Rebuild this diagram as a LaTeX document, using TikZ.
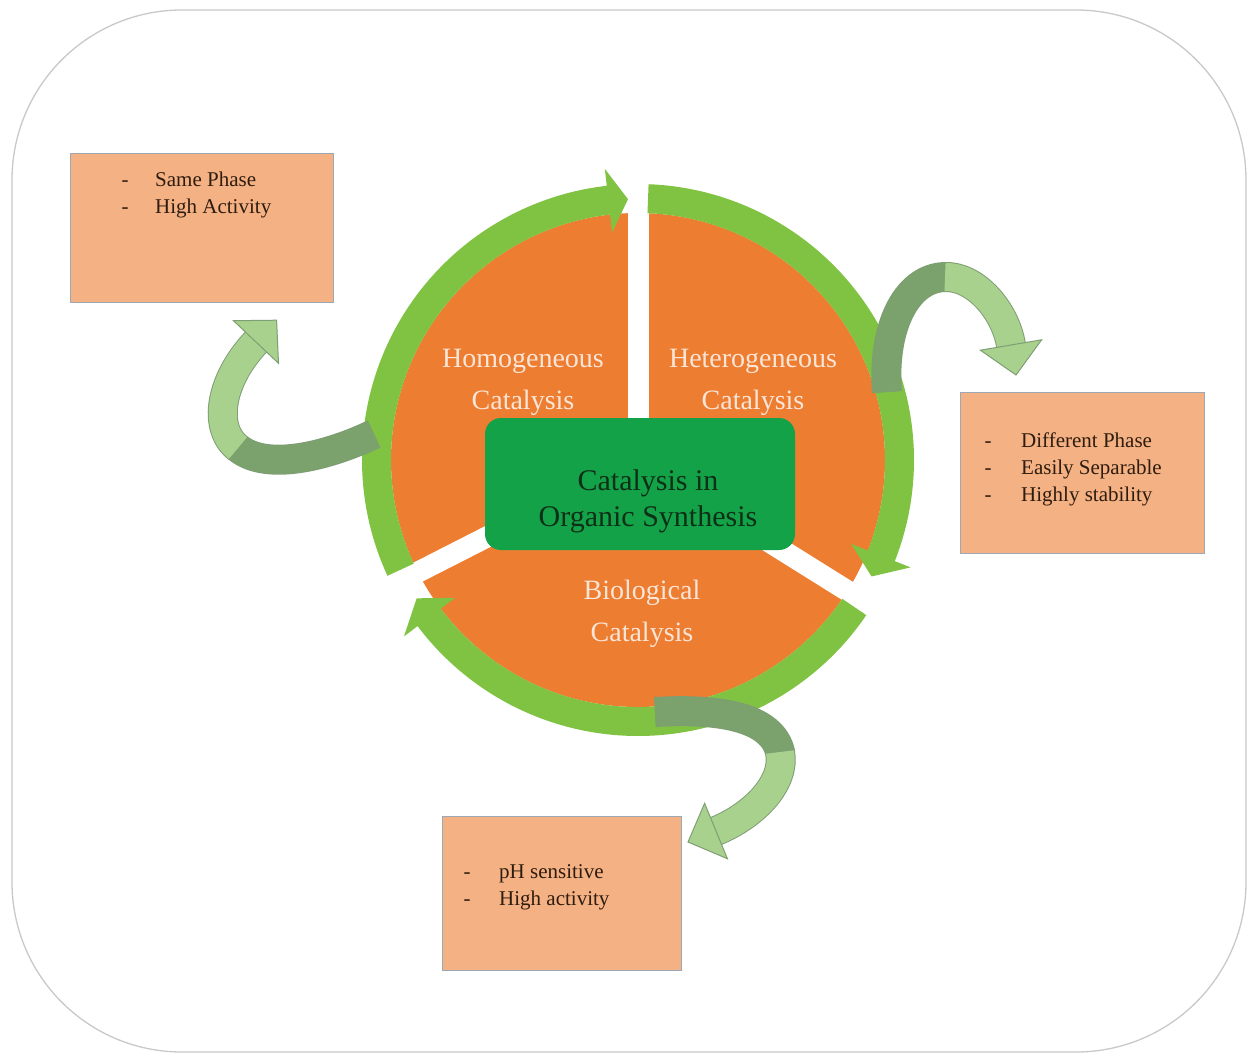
\documentclass[tikz,border=0pt]{standalone}
\usepackage{fontspec}
\setmainfont{Liberation Serif}
\usetikzlibrary{calc}
\definecolor{orng}{HTML}{ED7D31}
\definecolor{ringgreen}{HTML}{80C342}
\definecolor{boxgreen}{HTML}{14A249}
\definecolor{peach}{HTML}{F4B183}
\definecolor{peachedge}{HTML}{9DA8B4}
\definecolor{clight}{HTML}{A9D18E}
\definecolor{cdark}{HTML}{7BA26C}
\definecolor{cedge}{HTML}{7E9E74}
\definecolor{framecol}{HTML}{C9C9C9}
\definecolor{cream}{HTML}{FBE5D6}
\definecolor{darkgreentext}{HTML}{0E3016}
\definecolor{browntext}{HTML}{2E1C0F}
\newcommand\twoline[2]{\begin{tabular}[t]{@{}c@{}}#1\\#2\end{tabular}}
\begin{document}
\begin{tikzpicture}[x=1pt,y=-1pt,
  seclabel/.style={inner sep=0pt, text=cream, font=\fontsize{28}{42}\selectfont},
  centerlabel/.style={inner sep=0pt, text=darkgreentext, font=\fontsize{30}{36}\selectfont},
  infobox/.style={draw=peachedge, fill=peach, line width=1pt, inner sep=0pt},
  infotext/.style={inner sep=0pt, text=browntext, font=\fontsize{21}{27}\selectfont},
  bandedge/.style={draw=cedge, line width=30pt},
  banddark/.style={draw=cdark, line width=28pt},
  bandlight/.style={draw=clight, line width=28pt},
  headshape/.style={fill=clight, draw=cedge, line width=1pt, line join=miter},
  gapline/.style={draw=white, line width=21pt},
  ringarrow/.style={fill=ringgreen}
]
\useasboundingbox (0,0) rectangle (1248,1055);
\fill[white] (0,0) rectangle (1248,1055);
% frame
\draw[framecol, line width=1.3pt, rounded corners=170pt] (12,10) rectangle (1246,1052);

% wheel
\coordinate (C) at (638,460);
\begin{scope}[shift={(C)}]
  \fill[orng] (0,0) circle[radius=247];
  \draw[gapline] (0,0) -- (270:300);
  \draw[gapline] (0,0) -- (153:300);
  \draw[gapline] (0,0) -- (32:300);
  % ring arrow 1 (left side, head at top)
  \fill[ringarrow] (155.2:276) arc[start angle=155.2, end angle=263.5, radius=276]
     -- (263.5:293) -- (267.8:261) -- (263.5:229) -- (263.5:247)
     arc[start angle=263.5, end angle=155.2, radius=247] -- cycle;
  % ring arrow 2 (right side, head lower right)
  \fill[ringarrow] (272.2:276) arc[start angle=272.2, end angle=381.5, radius=276]
     -- (381.5:293) -- (386.5:261) -- (381.5:229) -- (381.5:247)
     arc[start angle=381.5, end angle=272.2, radius=247] -- cycle;
  % ring arrow 3 (bottom, head lower left)
  \fill[ringarrow] (34.2:276) arc[start angle=34.2, end angle=143, radius=276]
     -- (143:293) -- (148:261) -- (143:229) -- (143:247)
     arc[start angle=143, end angle=34.2, radius=247] -- cycle;
\end{scope}

% central box
\node[fill=boxgreen, rounded corners=16pt, minimum width=310pt, minimum height=132pt, inner sep=0pt] (core) at (640,484) {};
\node[centerlabel, anchor=base] (coretext) at (648,490) {\twoline{Catalysis in}{Organic Synthesis}};

% sector labels
\node[seclabel, anchor=base] (homo) at (523,367) {\twoline{Homogeneous}{Catalysis}};
\node[seclabel, anchor=base] (hetero) at (753,367) {\twoline{Heterogeneous}{Catalysis}};
\node[seclabel, anchor=base] (bio) at (642,599) {\twoline{Biological}{Catalysis}};

% info boxes
\node[infobox, minimum width=263pt, minimum height=149pt] (boxA) at (201.5,227.5) {};
\node[infobox, minimum width=244pt, minimum height=161pt] (boxB) at (1082,472.5) {};
\node[infobox, minimum width=239pt, minimum height=154pt] (boxC) at (561.5,893) {};

\node[infotext, anchor=base west] (textA) at (121.5,186) {\begin{tabular}[t]{@{}l@{\hspace{26.5pt}}l@{}}-&Same Phase\\-&High Activity\end{tabular}};
\node[infotext, anchor=base west] (textB) at (984.5,447) {\begin{tabular}[t]{@{}l@{\hspace{29.5pt}}l@{}}-&Different Phase\\-&Easily Separable\\-&Highly stability\end{tabular}};
\node[infotext, anchor=base west] (textC) at (463.5,878) {\begin{tabular}[t]{@{}l@{\hspace{28.5pt}}l@{}}-&pH sensitive\\-&High activity\end{tabular}};

% curved arrows: named end points
\coordinate (aS) at (374,434);
\coordinate (aM) at (238,448);
\coordinate (aE) at (256,342);
\coordinate (bS) at (887,392);
\coordinate (bM) at (945,277);
\coordinate (bE) at (1011,345);
\coordinate (cS) at (655,712);
\coordinate (cM) at (780,752);
\coordinate (cE) at (716,831);

% arrow A (to homogeneous box)
\draw[bandedge] (aS) .. controls (330,455) and (268,472) .. (aM) .. controls (212,428) and (220,380) .. (aE);
\draw[banddark] (aS) .. controls (330,455) and (268,472) .. (aM);
\draw[bandlight] (aM) .. controls (212,428) and (220,380) .. (aE);
\draw[headshape] (233.5,320.7) -- (276.6,320.2) -- (278.5,363.3) -- cycle;

% arrow B (to heterogeneous box)
\draw[bandedge] (bS) .. controls (882,330) and (905,278) .. (bM) .. controls (975,276) and (1005,310) .. (bE);
\draw[banddark] (bS) .. controls (882,330) and (905,278) .. (bM);
\draw[bandlight] (bM) .. controls (975,276) and (1005,310) .. (bE);
\draw[headshape] (980.4,350.2) -- (1016,375) -- (1041.6,339.8) -- cycle;

% arrow C (to biological box)
\draw[bandedge] (cS) .. controls (722,708) and (772,718) .. (cM) .. controls (786,782) and (755,815) .. (cE);
\draw[banddark] (cS) .. controls (722,708) and (772,718) .. (cM);
\draw[bandlight] (cM) .. controls (786,782) and (755,815) .. (cE);
\draw[headshape] (704.6,803.3) -- (688,842) -- (727.4,858.7) -- cycle;
\end{tikzpicture}
\end{document}
